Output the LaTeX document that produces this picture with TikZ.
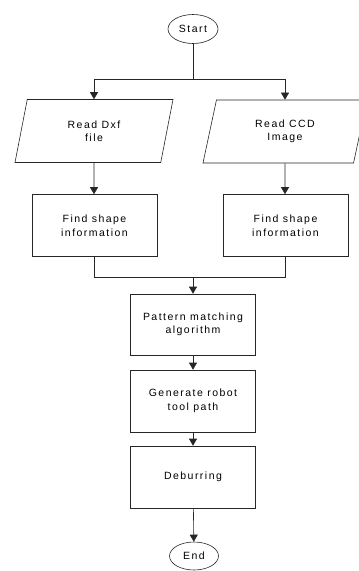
\documentclass[tikz,border=0pt]{standalone}
\usepackage{fontspec}
\setmainfont{Liberation Sans}
\newfontfamily\flowfont[LetterSpace=14]{Liberation Sans}
\usetikzlibrary{shapes.geometric,arrows.meta}
\begin{document}
\begin{tikzpicture}[x=1pt,y=-1pt,
  every node/.style={font=\flowfont\fontsize{10.5}{13.5}\selectfont, align=center, inner sep=0pt},
  line/.style={draw=black!85, line width=0.6pt},
  arr/.style={line, -{Triangle[width=8pt,length=7pt]}},
  terminal/.style={ellipse, line, minimum width=50pt, minimum height=29pt},
  iobox/.style={trapezium, trapezium left angle=60, trapezium right angle=120,
    trapezium stretches body=true, line, minimum width=158pt, minimum height=63pt},
  procbox/.style={rectangle, line, minimum width=125pt, minimum height=62pt}]
  \useasboundingbox (0,0) rectangle (359,571);

  % terminals and steps
  \node[terminal] (start) at (193,29) {Start};
  \node[iobox] (lread) at (94,131) {Read Dxf\\file};
  \node[iobox, minimum width=164pt] (rread) at (285,131.5) {Read CCD\\Image};
  \node[procbox] (lfind) at (94.5,225.5) {Find shape\\information};
  \node[procbox] (rfind) at (285.5,225.5) {Find shape\\information};
  \node[procbox, minimum height=61pt] (match) at (193,324.5) {Pattern matching\\algorithm};
  \node[procbox] (gen) at (193,401) {Generate robot\\tool path};
  \node[procbox] (deb) at (193,477) {Deburring};
  \node[terminal, minimum width=49pt, minimum height=28pt] (end) at (194,556) {End};

  % branching and merging points
  \coordinate (fork) at (193,79);
  \coordinate (join) at (193,277);

  % connectors
  \draw[line] (start) -- (fork);
  \draw[arr] (fork) -| (lread);
  \draw[arr] (fork) -| (rread);
  \draw[arr] (lread) -- (lread |- lfind.north);
  \draw[arr] (rread) -- (rread |- rfind.north);
  \draw[line] (lfind) |- (join);
  \draw[line] (rfind) |- (join);
  \draw[arr] (join) -- (match);
  \draw[arr] (match) -- (gen);
  \draw[arr] (gen) -- (deb);
  \draw[arr] (deb) -- (end);
\end{tikzpicture}
\end{document}
